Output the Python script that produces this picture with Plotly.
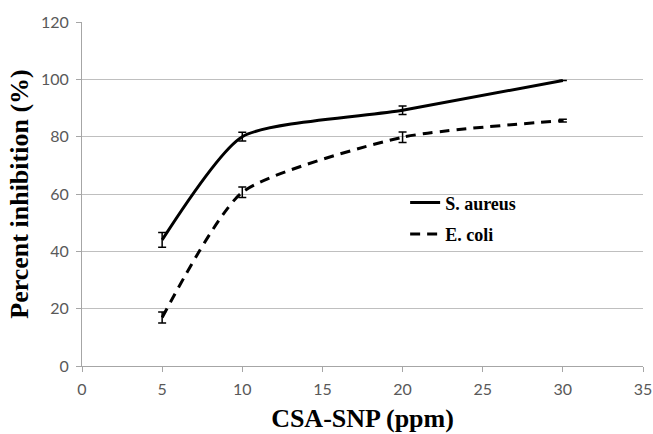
import plotly.graph_objects as go

conc = [5, 10, 20, 30]
s_aureus = [44.0, 80.0, 89.2, 99.6]
s_aureus_err = [2.6, 1.5, 1.5, 0.0]
e_coli = [16.9, 60.6, 79.8, 85.6]
e_coli_err = [1.9, 1.8, 1.8, 0.5]

x_ticks = [0, 5, 10, 15, 20, 25, 30, 35]
y_ticks = [0, 20, 40, 60, 80, 100, 120]

fig = go.Figure()
fig.add_trace(go.Scatter(
    x=conc, y=s_aureus, name="S. aureus", mode="lines", legendgroup="a",
    line=dict(color="black", width=3, shape="spline", smoothing=0.6),
    error_y=dict(type="data", array=s_aureus_err, color="black", thickness=1.5, width=4),
))
fig.add_trace(go.Scatter(
    x=conc, y=e_coli, name="E. coli", mode="lines", legendgroup="b",
    line=dict(color="black", width=3, shape="spline", smoothing=0.6, dash="10px,7px"),
    error_y=dict(type="data", array=e_coli_err, color="black", thickness=1.5, width=4),
))

serif = "Liberation Serif, Times New Roman, serif"
tick_font = dict(family="Lato, Carlito, sans-serif", size=16, color="#595959")
fig.update_layout(
    width=653, height=434,
    margin=dict(l=82, r=10, t=22, b=68),
    paper_bgcolor="white", plot_bgcolor="white",
    showlegend=True,
    legend=dict(x=0.576, y=0.528, xanchor="left", yanchor="top",
                font=dict(family=serif, size=18, color="black", weight="bold"),
                bgcolor="rgba(0,0,0,0)", traceorder="grouped", tracegroupgap=5),
    xaxis=dict(range=[0, 35], tickvals=x_ticks, showgrid=False, showline=True, automargin=False,
               linecolor="#A6A6A6", linewidth=1, ticks="outside", ticklen=5, tickcolor="#A6A6A6",
               tickfont=tick_font, zeroline=False, ticklabelstandoff=4,
               title=dict(text="CSA-SNP (ppm)", standoff=11,
                          font=dict(family=serif, size=26, color="black", weight="bold"))),
    yaxis=dict(range=[0, 120], tickvals=y_ticks, showgrid=True, gridcolor="#BFBFBF", gridwidth=1,
               showline=True, linecolor="#A6A6A6", linewidth=1, ticks="outside", ticklen=5, tickcolor="#A6A6A6",
               tickfont=tick_font, zeroline=False, automargin=False, ticklabelstandoff=4,
               title=dict(text="Percent inhibition (%)", standoff=4,
                          font=dict(family=serif, size=26, color="black", weight="bold"))),
)
fig.write_html("out.html", config={"displayModeBar": False},
               post_script="document.body.style.margin='0';document.body.style.overflow='hidden';")
